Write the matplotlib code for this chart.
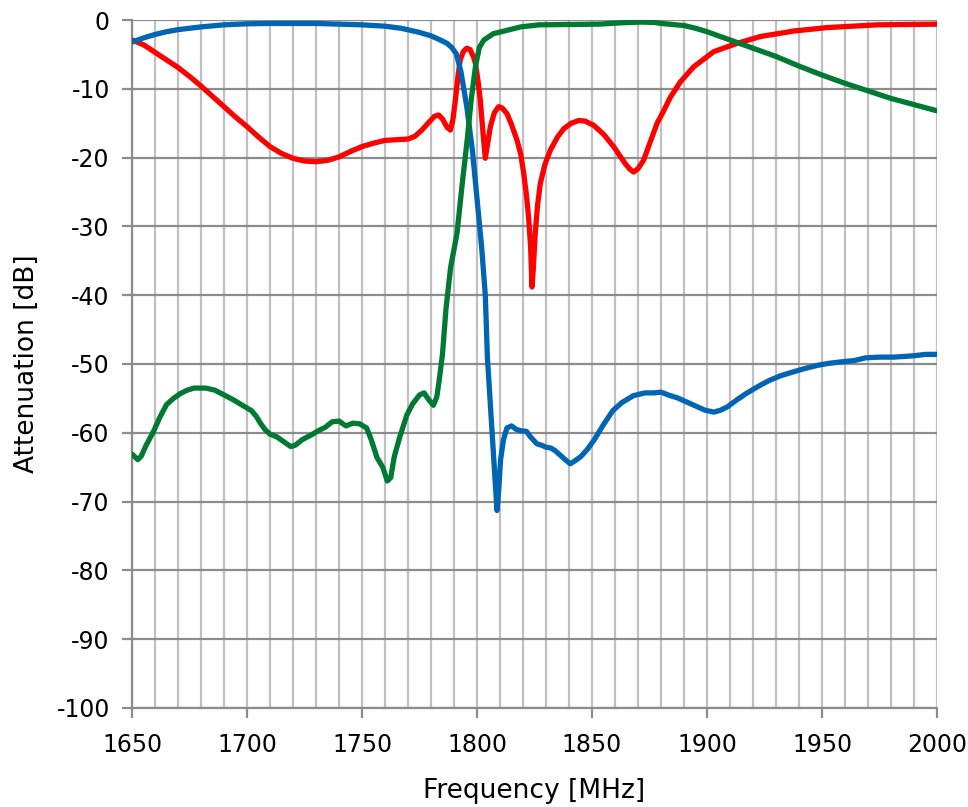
import matplotlib
matplotlib.use("Agg")
import matplotlib.pyplot as plt
from matplotlib.ticker import MultipleLocator

# readings: frequency [MHz], attenuation [dB]
blue_freq = [1650, 1655, 1660, 1665, 1670, 1680, 1690, 1700, 1710, 1730, 1750, 1760, 1767,
             1775, 1780, 1784, 1787, 1789, 1791, 1793, 1795.5, 1798, 1800, 1802, 1803.6,
             1804.5, 1806, 1807.5, 1808.7, 1809.5, 1810.2, 1811.5, 1813, 1815, 1817, 1819,
             1821.5, 1823, 1826, 1828, 1830, 1832, 1834, 1836, 1838, 1840.5, 1842, 1845,
             1848, 1851, 1855, 1859, 1863, 1868, 1873, 1877, 1880, 1884, 1887, 1891, 1895,
             1899, 1903, 1906, 1909, 1913, 1917, 1922, 1927, 1932, 1937, 1942, 1948, 1953,
             1958, 1964, 1969, 1975, 1981, 1986, 1990, 1995, 2000]
blue_db = [-3.2, -2.6, -2.1, -1.7, -1.4, -1.0, -0.7, -0.55, -0.5, -0.5, -0.7, -0.9, -1.2,
           -1.8, -2.3, -2.9, -3.4, -4.0, -4.9, -7.5, -12.5, -19, -26, -33, -40,
           -49, -57, -65, -71.3, -68, -64, -61, -59.3, -59.0, -59.5, -59.7,
           -59.8, -60.5, -61.6, -61.8, -62.1, -62.2, -62.6, -63.2, -63.8, -64.5, -64.2, -63.5,
           -62.4, -61.0, -58.8, -56.8, -55.6, -54.6, -54.2, -54.2, -54.1, -54.6, -54.9, -55.5, -56.1,
           -56.7, -57.0, -56.7, -56.2, -55.2, -54.3, -53.3, -52.4, -51.7, -51.2, -50.7, -50.2, -49.9,
           -49.7, -49.5, -49.1, -49.0, -49.0, -48.9, -48.8, -48.6, -48.6]

green_freq = [1650, 1652.5, 1654, 1656, 1659.5, 1662, 1665, 1668, 1671, 1674, 1677, 1682,
              1686, 1690, 1694, 1698, 1702, 1704, 1706, 1708, 1710, 1713, 1716, 1719, 1721,
              1724, 1728, 1731, 1734, 1737, 1740, 1743, 1746, 1749, 1752, 1754, 1756.5, 1759,
              1761, 1762.5, 1764, 1766.5, 1769.5, 1772, 1775, 1777, 1779, 1781, 1782.5,
              1783.5, 1785, 1786.5, 1788.5, 1791.3, 1793.5, 1795.7, 1797.5, 1799.3, 1801,
              1803, 1807, 1813, 1819, 1827, 1840, 1853, 1863, 1871, 1877, 1880, 1890, 1895,
              1900, 1905, 1910, 1920, 1930, 1940, 1950, 1960, 1970, 1980, 1990, 2000]
green_db = [-63.1, -63.9, -63.4, -61.9, -59.7, -57.8, -55.9, -55.0, -54.3, -53.8, -53.5, -53.5,
            -53.8, -54.5, -55.2, -56.0, -56.8, -57.6, -58.7, -59.6, -60.2, -60.6, -61.3, -62.0, -61.8,
            -61.0, -60.3, -59.7, -59.2, -58.4, -58.3, -59.0, -58.6, -58.7, -59.3, -61.0, -63.6, -65.0,
            -67.0, -66.5, -63.5, -60.5, -57.4, -55.8, -54.5, -54.2, -55.2, -56.0, -54.8,
            -52.5, -48.5, -42, -36, -31, -24, -17.5, -11.5, -6.8, -4.0,
            -2.9, -2.0, -1.5, -1.0, -0.7, -0.65, -0.6, -0.4, -0.3, -0.35, -0.5, -0.8, -1.2,
            -1.7, -2.3, -2.9, -4.1, -5.3, -6.7, -8.0, -9.2, -10.3, -11.4, -12.3, -13.2]

red_freq = [1650, 1655, 1660, 1665, 1670, 1675, 1680, 1685, 1690, 1695, 1700, 1705, 1710,
            1715, 1720, 1725, 1730, 1735, 1740, 1745, 1750, 1755, 1760, 1765, 1770, 1773,
            1776, 1779, 1781.5, 1783.3, 1785, 1787, 1788.4, 1789.5, 1790.6, 1791.7, 1792.7,
            1794, 1795.5, 1797, 1798.5, 1799.3, 1800.5, 1801.4, 1802.5, 1803.6, 1804.6,
            1805.8, 1807.5, 1809.4, 1811, 1813, 1815, 1817.4, 1819, 1820.3, 1821.5, 1822.4,
            1823.3, 1823.9, 1824.5, 1825.3, 1826.3, 1827.5, 1829.5, 1831.9, 1835, 1837.7,
            1841, 1844.2, 1847, 1850.7, 1855, 1859.4, 1862, 1864.5, 1866.5, 1868.1, 1870,
            1872.4, 1875, 1878.3, 1881, 1884.1, 1888.4, 1894.2, 1902.9, 1913, 1923.2,
            1937.7, 1952.2, 1974, 2000]
red_db = [-2.9, -3.6, -4.7, -5.8, -6.9, -8.2, -9.6, -11.1, -12.6, -14.1, -15.5, -17.0, -18.4,
          -19.4, -20.1, -20.5, -20.6, -20.4, -19.9, -19.1, -18.4, -17.9, -17.5, -17.4, -17.3, -16.9,
          -16.0, -14.9, -14.0, -13.8, -14.4, -15.6, -16.0, -14.5, -11.6, -8.2, -5.8,
          -4.6, -4.1, -4.3, -5.4, -6.3, -9, -11.6, -16, -20.1, -18,
          -15.5, -13.5, -12.6, -12.8, -13.6, -15.2, -17.5, -19.5, -22.3, -25.5, -28.6,
          -33, -38.8, -36, -31, -27, -23.8, -21, -18.9, -17, -15.8,
          -15.0, -14.6, -14.7, -15.3, -16.6, -18.4, -19.7, -20.9, -21.7, -22.1, -21.6,
          -20.4, -18, -15.0, -13.3, -11.2, -9.0, -6.8, -4.6, -3.4, -2.4,
          -1.6, -1.1, -0.7, -0.6]

x_ticks = [1650, 1700, 1750, 1800, 1850, 1900, 1950, 2000]
y_ticks = list(range(-100, 1, 10))


def main() -> None:
    plt.rcParams["font.family"] = ["DejaVu Sans"]
    plt.rcParams["axes.unicode_minus"] = False
    fig = plt.figure(figsize=(9.68, 8.07), dpi=100)
    ax = fig.add_axes([0.1364, 0.1227, 0.8316, 0.8525])

    line_kw = dict(lw=3.8, solid_joinstyle="round", solid_capstyle="round")
    ax.plot(red_freq, red_db, color="#FF0000", zorder=3, **line_kw)
    ax.plot(blue_freq, blue_db, color="#0066B3", zorder=4, **line_kw)
    ax.plot(green_freq, green_db, color="#007A33", zorder=5, **line_kw)

    ax.set_xlim(1650, 2000)
    ax.set_ylim(-100, 0)
    ax.set_xticks(x_ticks)
    ax.set_yticks(y_ticks)
    ax.xaxis.set_minor_locator(MultipleLocator(10))
    ax.grid(which="minor", axis="x", color="#C0C0C0", lw=1.6)
    ax.grid(which="major", axis="x", color="#C0C0C0", lw=1.6)
    ax.grid(which="major", axis="y", color="#8C8C8C", lw=1.6)
    ax.set_axisbelow(True)

    for side in ("top", "right"):
        ax.spines[side].set_visible(False)
    for side in ("left", "bottom"):
        ax.spines[side].set_color("#8C8C8C")
        ax.spines[side].set_linewidth(1.6)

    ax.tick_params(which="major", direction="out", length=7, width=1.6, color="#8C8C8C",
                   labelsize=17)
    ax.tick_params(axis="x", which="major", pad=11)
    ax.tick_params(axis="y", which="major", pad=9)
    ax.tick_params(which="minor", length=0)

    ax.set_xlabel("Frequency [MHz]", fontsize=19, labelpad=15)
    ax.set_ylabel("Attenuation [dB]", fontsize=19, labelpad=12)

    fig.savefig("out.png", dpi=100)
    plt.close(fig)


if __name__ == "__main__":
    main()
